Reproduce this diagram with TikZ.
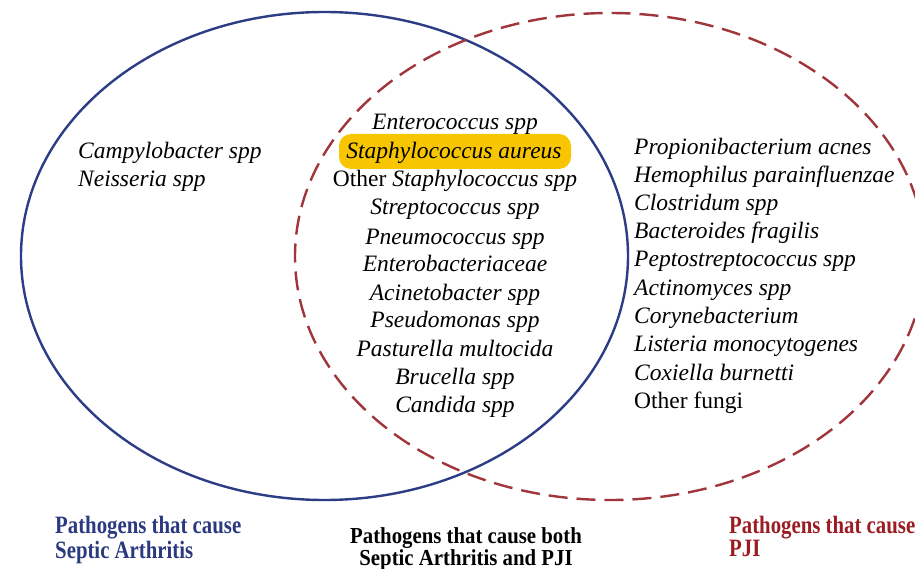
\documentclass[tikz,border=0pt]{standalone}
\usepackage{graphicx}
\usepackage{fontspec}
\setmainfont{Liberation Serif}
\usetikzlibrary{shapes.geometric}
\definecolor{saBlue}{HTML}{2D3D85}
\definecolor{pjiRed}{HTML}{A0363B}
\definecolor{capBlue}{HTML}{2B3A80}
\definecolor{capRed}{HTML}{9B1C22}
\definecolor{hiYellow}{HTML}{F7C600}
\newcommand\tallline[1]{\scalebox{1}[1.2]{#1}}
\newcommand\midline[1]{\scalebox{1}[1.1]{#1}}
\tikzset{
  setA/.style={draw=saBlue, line width=2.4pt, ellipse, inner sep=0pt},
  setB/.style={draw=pjiRed, line width=2.4pt, ellipse, inner sep=0pt, dash pattern=on 19pt off 9pt},
  bug/.style={font=\fontsize{23.5}{28}\selectfont\itshape, anchor=base, inner sep=0pt, text=black},
  bugL/.style={bug, anchor=base west},
  hl/.style={fill=hiYellow, rounded corners=12pt},
  capfont/.style={font=\fontsize{20.8}{25}\selectfont\bfseries, inner sep=0pt},
  capA/.style={capfont, text=capBlue, anchor=base west},
  capB/.style={capfont, text=black, anchor=base},
  capC/.style={capfont, text=capRed, anchor=base west},
}
\begin{document}
\begin{tikzpicture}[x=1pt,y=-1pt]
\useasboundingbox (0,0) rectangle (915,569);
\fill[white] (0,0) rectangle (915,569);
% ellipses
\node[setA, minimum width=607pt, minimum height=488pt] (sa) at (324.5,256) {};
\node[setB, minimum width=630pt, minimum height=487pt] (pji) at (610,256.5) {};
% highlight
\node[hl, minimum width=232pt, minimum height=35pt] (hlbox) at (455,151.5) {};
% left
\node[bugL] (l1) at (78,159) {Campylobacter spp};
\node[bugL] (l2) at (78,187) {Neisseria spp};
% centre
\node[bug] (c1) at (455,130) {Enterococcus spp};
\node[bug] (c2) at (454,159) {Staphylococcus aureus};
\node[bug] (c3) at (455,187) {\upshape Other \itshape Staphylococcus spp};
\node[bug] (c4) at (455,215) {Streptococcus spp};
\node[bug] (c5) at (455,244) {Pneumococcus spp};
\node[bug] (c6) at (455,272) {Enterobacteriaceae};
\node[bug] (c7) at (455,300) {Acinetobacter spp};
\node[bug] (c8) at (455,327) {Pseudomonas spp};
\node[bug] (c9) at (455,356) {Pasturella multocida};
\node[bug] (c10) at (455,384) {Brucella spp};
\node[bug] (c11) at (455,412) {Candida spp};
% right
\node[bugL] (r1) at (634,155) {Propionibacterium acnes};
\node[bugL] (r2) at (634,183) {Hemophilus parainfluenzae};
\node[bugL] (r3) at (634,211) {Clostridum spp};
\node[bugL] (r4) at (634,239) {Bacteroides fragilis};
\node[bugL] (r5) at (634,267) {Peptostreptococcus spp};
\node[bugL] (r6) at (634,295) {Actinomyces spp};
\node[bugL] (r7) at (634,323) {Corynebacterium};
\node[bugL] (r8) at (634,351) {Listeria monocytogenes};
\node[bugL] (r9) at (634,380) {Coxiella burnetti};
\node[bugL] (r10) at (634,408) {\upshape Other fungi};
% captions
\node[capA] (capSA1) at (55,533) {\tallline{Pathogens that cause}};
\node[capA] (capSA2) at (55,558) {\tallline{Septic Arthritis}};
\node[capB] (capBoth1) at (466,543) {\midline{Pathogens that cause both}};
\node[capB] (capBoth2) at (466,565) {\midline{Septic Arthritis and PJI}};
\node[capC] (capPJI1) at (729,533) {\tallline{Pathogens that cause}};
\node[capC] (capPJI2) at (729,556) {\tallline{PJI}};
\end{tikzpicture}
\end{document}
